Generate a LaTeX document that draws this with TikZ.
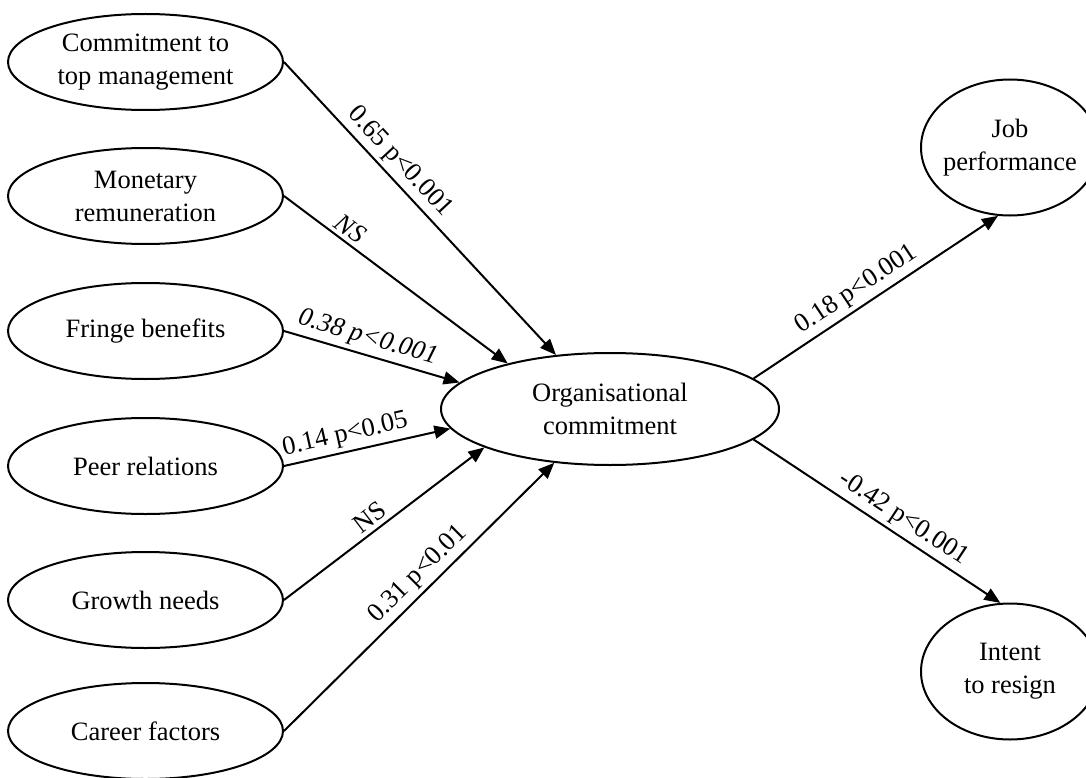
\documentclass[tikz,border=0pt]{standalone}
\usepackage{fontspec}
\setmainfont{Liberation Serif}
\usetikzlibrary{shapes.geometric,arrows.meta}
\begin{document}
\begin{tikzpicture}[x=1pt,y=1pt,
  every node/.style={font=\fontsize{26.5}{33}\selectfont},
  lell/.style={ellipse, draw, line width=2pt, minimum width=275pt, minimum height=96pt, inner sep=0pt, align=center},
  orgell/.style={ellipse, draw, line width=2pt, minimum width=338pt, minimum height=112pt, inner sep=0pt, align=center},
  rell/.style={ellipse, draw, line width=2pt, minimum width=178pt, minimum height=136pt, inner xsep=-12pt, inner ysep=0pt, align=center},
  conn/.style={line width=2pt, -{Triangle[length=16pt,width=13pt]}},
  lab/.style={sloped, above, inner sep=4pt}]
\clip (0,0) rectangle (1086,-778);
% left constructs
\node[lell] (ctm) at (145.5,-62) {Commitment to\\top management};
\node[lell] (mon) at (145.5,-196) {Monetary\\remuneration};
\node[lell] (fri) at (145.5,-331) {Fringe benefits};
\node[lell] (peer) at (145.5,-466) {Peer relations};
\node[lell] (gro) at (145.5,-600) {Growth needs};
\node[lell] (car) at (145.5,-731) {Career factors};
% central
\node[orgell] (org) at (610,-409) {Organisational\\commitment};
% outcomes
\node[rell] (job) at (1010,-147.5) {Job\\performance};
\node[rell] (int) at (1010,-671.5) {Intent\\to resign};
% connectors
\draw[conn] (ctm.east) -- node[lab, pos=0.38] {0.65 p<0.001} (org.135);
\draw[conn] (mon.east) -- node[lab, pos=0.26] {\itshape NS} (org.156.7);
\draw[conn] (fri.east) -- node[lab, pos=0.45] {\itshape 0.38 p<0.001} (org.170.2);
\draw[conn] (peer.east) -- node[lab, pos=0.39] {0.14 p<0.05} (org.187.7);
\draw[conn] (gro.east) -- node[lab, pos=0.47] {NS} (org.197.6);
\draw[conn] (car.east) -- node[lab, pos=0.54] {0.31 p<0.01} (org.224);
\draw[conn] (org.12.3) -- node[lab, pos=0.46] {0.18 p<0.001} (job.260.2);
\draw[conn] (org.-12.3) -- node[lab, pos=0.57] {-0.42 p<0.001} (int.98.3);
\end{tikzpicture}
\end{document}
